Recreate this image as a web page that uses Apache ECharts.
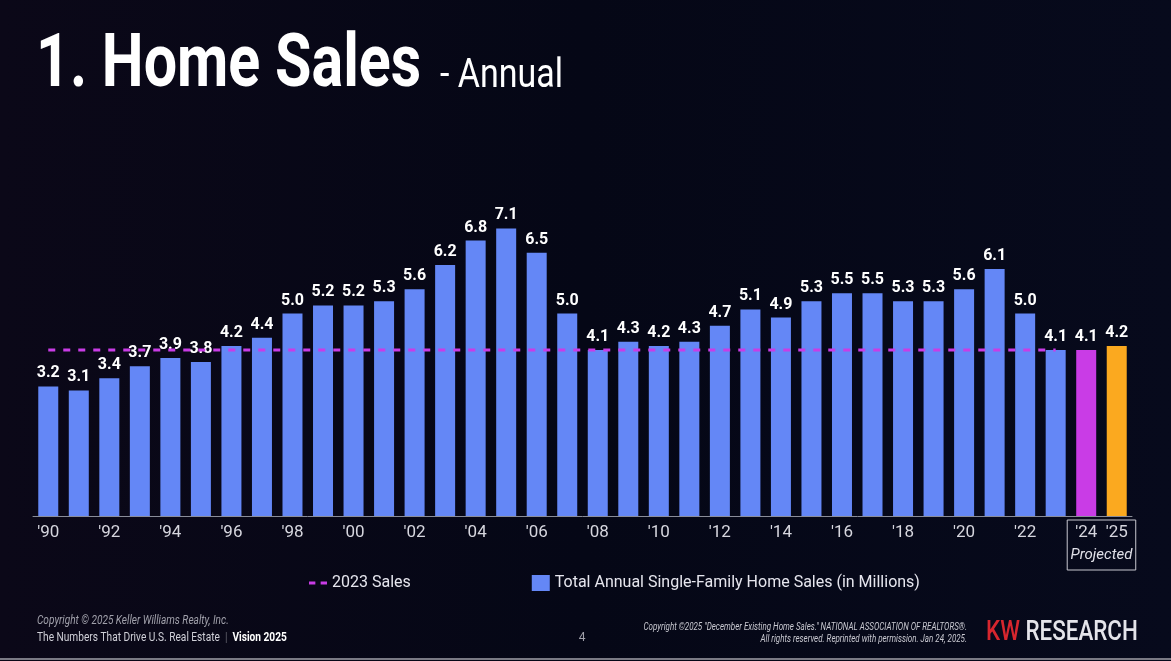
<!DOCTYPE html>
<html style="height: 100%">
<head>
    <meta charset="utf-8">
    <title>Home Sales - Annual</title>
    <script src="https://cdn.jsdelivr.net/npm/echarts@6/dist/echarts.min.js"></script>
</head>
<body style="height: 100%; margin: 0; background: #06071a">
    <div id="chart" style="width: 1171px; height: 661px"></div>
    <script>
        // data
        const years = ['1990', '1991', '1992', '1993', '1994', '1995', '1996', '1997', '1998', '1999',
            '2000', '2001', '2002', '2003', '2004', '2005', '2006', '2007', '2008', '2009',
            '2010', '2011', '2012', '2013', '2014', '2015', '2016', '2017', '2018', '2019',
            '2020', '2021', '2022', '2023', '2024', '2025'];
        const sales = [3.2, 3.1, 3.4, 3.7, 3.9, 3.8, 4.2, 4.4, 5.0, 5.2,
            5.2, 5.3, 5.6, 6.2, 6.8, 7.1, 6.5, 5.0, 4.1, 4.3,
            4.2, 4.3, 4.7, 5.1, 4.9, 5.3, 5.5, 5.5, 5.3, 5.3,
            5.6, 6.1, 5.0, 4.1, 4.1, 4.2];
        const sales2023 = 4.1;
        const projectedYears = ['2024', '2025'];

        const FONT = "Roboto, 'Liberation Sans', sans-serif";
        const NARROW = 0.8; // squeeze for the condensed look of the slide
        const BLUE = '#6487f6';
        const PURPLE = '#c93ce6';
        const ORANGE = '#fba91f';

        const barColors = { '2024': PURPLE, '2025': ORANGE };
        const last2023 = years.indexOf('2023');

        const chart = echarts.init(document.getElementById('chart'), null, { renderer: 'canvas' });

        const option = {
            backgroundColor: {
                type: 'linear', x: 0, y: 0, x2: 1, y2: 0,
                colorStops: [
                    { offset: 0, color: '#0b0818' },
                    { offset: 0.5, color: '#050716' },
                    { offset: 1, color: '#070a1c' }
                ]
            },
            textStyle: { fontFamily: FONT },
            legend: {
                left: 304,
                top: 570,
                itemGap: 121,
                itemWidth: 18,
                itemHeight: 16,
                textStyle: { color: '#e6e6ee', fontSize: 16, fontFamily: FONT },
                data: [
                    { name: '2023 Sales', icon: 'path://M0,7 L6,7 L6,10 L0,10 Z M11,7 L17,7 L17,10 L11,10 Z' },
                    { name: 'Total Annual Single-Family Home Sales (in Millions)', icon: 'rect' }
                ]
            },
            grid: { left: 33, right: 39, top: 192, bottom: 145 },
            xAxis: {
                type: 'category',
                data: years,
                axisTick: { show: false },
                axisLine: { lineStyle: { color: '#8a8d99', width: 1 } },
                axisLabel: {
                    color: '#d6d6de',
                    fontSize: 17,
                    fontFamily: FONT,
                    margin: 8,
                    interval: 0,
                    formatter: (v, i) => (i % 2 === 0 || projectedYears.includes(v)) ? "'" + v.slice(2) : ''
                }
            },
            yAxis: { type: 'value', min: 0, max: 8, show: false },
            series: [
                {
                    name: 'Total Annual Single-Family Home Sales (in Millions)',
                    type: 'bar',
                    barWidth: 20,
                    itemStyle: { color: BLUE },
                    data: sales.map((v, i) => ({
                        value: v,
                        itemStyle: { color: barColors[years[i]] || BLUE }
                    })),
                    label: {
                        show: true,
                        position: 'top',
                        distance: 5,
                        color: '#ffffff',
                        fontSize: 16,
                        fontWeight: 'bold',
                        fontFamily: FONT,
                        formatter: p => p.value.toFixed(1)
                    },
                    z: 2
                },
                {
                    name: '2023 Sales',
                    type: 'line',
                    symbol: 'none',
                    itemStyle: { color: PURPLE },
                    lineStyle: { color: PURPLE, width: 3, type: [7, 8] },
                    data: years.map((y, i) => i <= last2023 ? sales2023 : null),
                    z: 3
                }
            ]
        };
        chart.setOption(option);

        // title, projected box and footer
        const p24 = chart.convertToPixel({ seriesIndex: 0 }, ['2024', 0]);
        const p25 = chart.convertToPixel({ seriesIndex: 0 }, ['2025', 0]);
        const boxL = p24[0] - 19, boxR = p25[0] + 19;
        chart.setOption({
            graphic: [
                {
                    type: 'text', x: 36, y: 67, scaleX: 0.8,
                    style: { text: '1. Home Sales', fill: '#ffffff', font: 'bold 74px ' + FONT, textVerticalAlign: 'middle' }
                },
                {
                    type: 'text', x: 440, y: 77, scaleX: 0.85,
                    style: { text: '- Annual', fill: '#ffffff', font: '40px ' + FONT, textVerticalAlign: 'middle' }
                },
                {
                    type: 'rect',
                    shape: { x: boxL, y: p24[1] + 4, width: boxR - boxL, height: 50 },
                    style: { fill: 'none', stroke: '#c8c8d0', lineWidth: 1 }
                },
                {
                    type: 'text',
                    x: (boxL + boxR) / 2, y: p24[1] + 39,
                    style: {
                        text: 'Projected', fill: '#e0e0e8', font: 'italic 15px ' + FONT,
                        textAlign: 'center', textVerticalAlign: 'middle'
                    }
                },
                {
                    type: 'text', x: 37, y: 621, scaleX: 0.84,
                    style: { text: 'Copyright \u00a9 2025 Keller Williams Realty, Inc.', fill: '#a0a0aa', font: 'italic 12px ' + FONT, textVerticalAlign: 'middle' }
                },
                {
                    type: 'text', x: 37, y: 638, scaleX: 0.78,
                    style: {
                        text: '{n|The Numbers That Drive U.S. Real Estate}{s|  |  }{v|Vision 2025}',
                        textVerticalAlign: 'middle',
                        rich: {
                            n: { fill: '#d0d0d8', fontSize: 13, fontFamily: FONT },
                            s: { fill: '#666670', fontSize: 13, fontFamily: FONT },
                            v: { fill: '#ffffff', fontSize: 13, fontWeight: 'bold', fontFamily: FONT }
                        }
                    }
                },
                {
                    type: 'text', x: 582, y: 638,
                    style: { text: '4', fill: '#a0a0aa', font: '12px ' + FONT, textAlign: 'center', textVerticalAlign: 'middle' }
                },
                {
                    type: 'text', x: 967, y: 627, scaleX: NARROW,
                    style: { text: 'Copyright \u00a92025 "December Existing Home Sales." NATIONAL ASSOCIATION OF REALTORS\u00ae.', fill: '#c8c8d0', font: 'italic 10px ' + FONT, textAlign: 'right', textVerticalAlign: 'middle' }
                },
                {
                    type: 'text', x: 967, y: 639, scaleX: NARROW,
                    style: { text: 'All rights reserved. Reprinted with permission. Jan 24, 2025.', fill: '#c8c8d0', font: 'italic 10px ' + FONT, textAlign: 'right', textVerticalAlign: 'middle' }
                },
                {
                    type: 'text', x: 986, y: 633, scaleX: 0.8,
                    style: {
                        text: '{k|KW}{r| RESEARCH}',
                        textVerticalAlign: 'middle',
                        rich: {
                            k: { fill: '#d7262e', fontSize: 28, fontWeight: 500, fontFamily: FONT },
                            r: { fill: '#e4e4ea', fontSize: 28, fontWeight: 500, fontFamily: FONT }
                        }
                    }
                },
                {
                    type: 'line',
                    shape: { x1: 0, y1: 659, x2: 1171, y2: 659 },
                    style: { stroke: '#7a7a84', lineWidth: 2 }
                }
            ]
        });
    </script>
</body>
</html>
